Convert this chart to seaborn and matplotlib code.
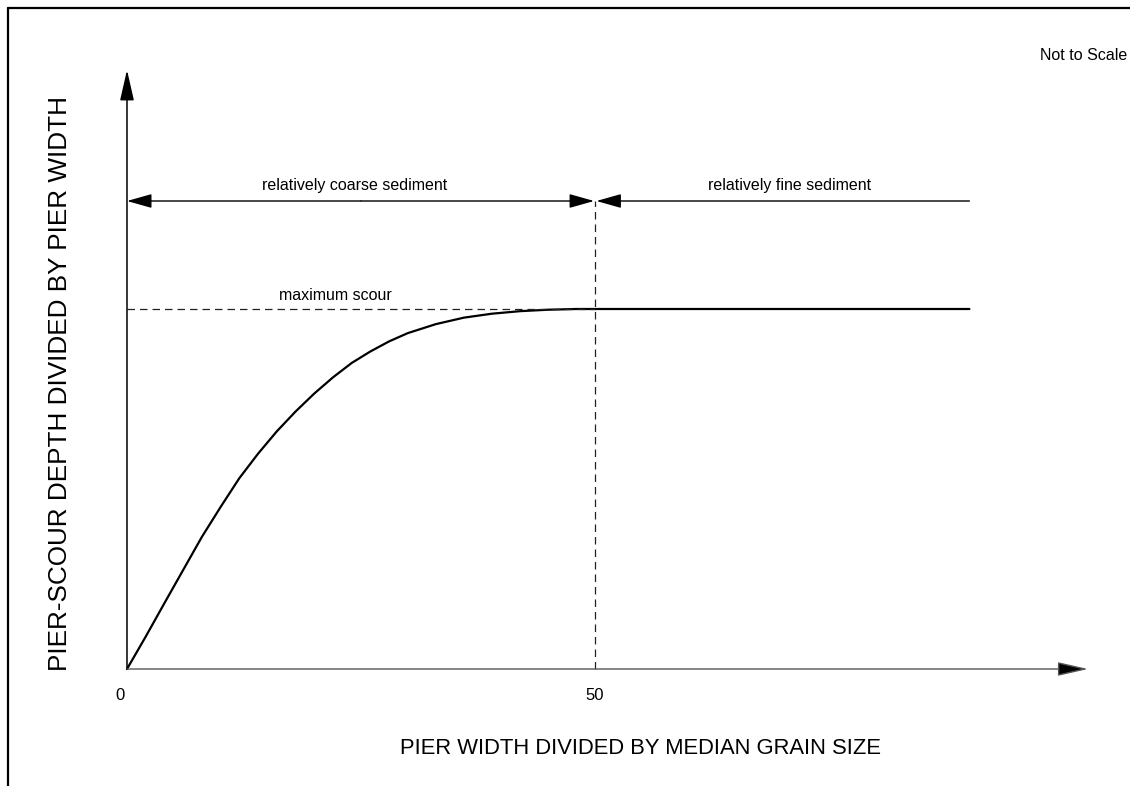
import matplotlib
matplotlib.use("Agg")
import matplotlib.pyplot as plt
from matplotlib.lines import Line2D
import seaborn as sns
import pandas as pd

# Relative scour depth versus pier width / grain size (schematic)
ratio_x = [0, 2, 4, 6, 8, 10, 12, 14, 16, 18, 20, 22, 24, 26, 28, 30,
           33, 36, 39, 42, 45, 48, 50, 90]
scour_y = [0.0, 0.09, 0.183, 0.275, 0.367, 0.45, 0.53, 0.598, 0.66, 0.715,
           0.765, 0.81, 0.85, 0.882, 0.91, 0.933, 0.958, 0.976, 0.987, 0.994,
           0.998, 1.0, 1.0, 1.0]
tick_values = [0, 50]
tick_labels = ["0", "50"]
threshold_x = 50
max_scour = 1.0
x_end = 90
band_y = 1.3
x_label = "PIER WIDTH DIVIDED BY MEDIAN GRAIN SIZE"
y_label = "PIER-SCOUR DEPTH DIVIDED BY PIER WIDTH"
coarse_label = "relatively coarse sediment"
fine_label = "relatively fine sediment"
max_label = "maximum scour"
note = "Not to Scale"

sns.set_theme(style="white")
plt.rcParams["font.family"] = ["Liberation Sans", "DejaVu Sans"]
plt.rcParams["text.color"] = "black"

W, H, DPI = 1130, 786, 100
fig = plt.figure(figsize=(W / DPI, H / DPI), dpi=DPI)
ax = fig.add_axes([0, 0, 1, 1])
ax.set_axis_off()

# pixel-based scales: origin at (127, 669), 9.36 px per x unit, 360 px per y unit
ox, oy, sx, sy = 127, 669, 9.36, 360.0
ax.set_xlim(-ox / sx, (W - ox) / sx)
ax.set_ylim(-(H - oy) / sy, oy / sy)


def px_x(p):
    return (p - ox) / sx


def px_y(p):
    return (oy - p) / sy


df = pd.DataFrame({"x": ratio_x, "y": scour_y})
sns.lineplot(data=df, x="x", y="y", ax=ax, color="black", lw=1.6)


def arrow(x0, y0, x1, y1, lw=1.0, color="black", hl=1.05, hw=0.24):
    ax.annotate("", xy=(x1, y1), xytext=(x0, y0),
                arrowprops=dict(arrowstyle=f"-|>,head_length={hl},head_width={hw}",
                                mutation_scale=18, lw=lw, color=color,
                                shrinkA=0, shrinkB=0, fc="black", ec=color))


# axes
arrow(0, 0, 0, px_y(70), lw=1.1)
arrow(0, 0, px_x(1088), 0, lw=1.0, color="#555555")

# tick labels
for v, t in zip(tick_values, tick_labels):
    ax.text(v - (7 if v == 0 else 0) / sx, px_y(696), t, ha="center", va="center",
            fontsize=12)

# dimension arrows
arrow(threshold_x / 2, band_y, 0, band_y, lw=1.0, hl=0.85, hw=0.24)
arrow(threshold_x / 2, band_y, threshold_x - 0.1, band_y, lw=1.0, hl=0.85, hw=0.24)
arrow(x_end, band_y, threshold_x + 0.15, band_y, lw=1.0, hl=0.85, hw=0.24)

# dashed reference lines
dash = dict(color="#222222", lw=0.9, dashes=(6, 4))
ax.plot([0, threshold_x], [max_scour, max_scour], **dash)
ax.plot([threshold_x, threshold_x], [0, band_y], **dash)

ax.text(px_x(355), px_y(185), coarse_label, ha="center", va="center", fontsize=11.5)
ax.text(px_x(790), px_y(185), fine_label, ha="center", va="center", fontsize=11.5)
ax.text(px_x(335), px_y(295), max_label, ha="center", va="center", fontsize=11.5)

ax.text(px_x(640), px_y(748), x_label, ha="center", va="center", fontsize=15.8)
ax.text(px_x(60), px_y(383), y_label, ha="center", va="center",
        rotation=90, fontsize=18.8)
ax.text(px_x(1084), px_y(55), note, ha="center", va="center", fontsize=11.5)

# frame
fig.add_artist(Line2D([7.5 / W, 1], [1 - 7.5 / H, 1 - 7.5 / H], color="black", lw=1.6,
                      transform=fig.transFigure))
fig.add_artist(Line2D([7.5 / W, 7.5 / W], [0, 1 - 7.5 / H], color="black", lw=1.6,
                      transform=fig.transFigure))

fig.savefig("out.png", dpi=DPI)
